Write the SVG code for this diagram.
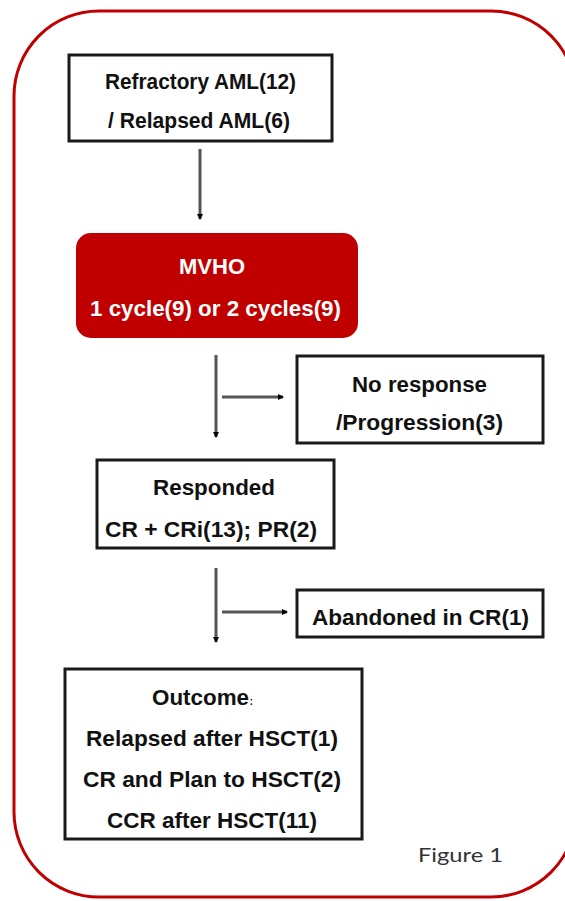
<svg xmlns="http://www.w3.org/2000/svg" width="565" height="901" viewBox="0 0 565 901">
<style>
.box{fill:#fff;stroke:#1a1a1a;stroke-width:3}
.t{font-family:"Liberation Sans",Arial,"Noto Sans CJK SC",sans-serif;font-weight:bold;font-size:22px;fill:#111;text-anchor:middle}
.w{fill:#fff}
.ln{stroke:#555;stroke-width:3;fill:none;marker-end:url(#ah)}
</style>
<defs>
<marker id="ah" viewBox="0 0 6 6" refX="5" refY="3" markerWidth="2" markerHeight="2" orient="auto" markerUnits="strokeWidth">
<path d="M0,0 L6,3 L0,6 Z" fill="#000"/>
</marker>
</defs>
<rect id="frame" x="14" y="11" width="562" height="886" rx="85" ry="85" fill="none" stroke="#c00000" stroke-width="3"/>
<g id="n1">
<rect class="box" x="69" y="55" width="263" height="86"/>
<text class="t" x="200.5" y="89" textLength="191" lengthAdjust="spacingAndGlyphs">Refractory AML(12)</text>
<text class="t" x="199" y="128" textLength="182" lengthAdjust="spacingAndGlyphs">/ Relapsed AML(6)</text>
</g>
<g id="n2">
<rect x="76" y="233" width="282" height="105" rx="15" ry="15" fill="#c00000"/>
<text class="t w" x="212" y="274" textLength="66" lengthAdjust="spacingAndGlyphs">MVHO</text>
<text class="t w" x="215.5" y="316" textLength="251" lengthAdjust="spacingAndGlyphs">1 cycle(9) or 2 cycles(9)</text>
</g>
<g id="n3">
<rect class="box" x="297" y="356" width="246" height="87"/>
<text class="t" x="419.5" y="392" textLength="135" lengthAdjust="spacingAndGlyphs">No response</text>
<text class="t" x="419.5" y="430" textLength="167" lengthAdjust="spacingAndGlyphs">/Progression(3)</text>
</g>
<g id="n4">
<rect class="box" x="97" y="460" width="237" height="88"/>
<text class="t" x="214" y="495" textLength="122" lengthAdjust="spacingAndGlyphs">Responded</text>
<text class="t" x="211" y="537" textLength="212" lengthAdjust="spacingAndGlyphs">CR + CRi(13); PR(2)</text>
</g>
<g id="n5">
<rect class="box" x="297" y="590" width="246" height="47"/>
<text class="t" x="420.5" y="625" textLength="217" lengthAdjust="spacingAndGlyphs">Abandoned in CR(1)</text>
</g>
<g id="n6">
<rect class="box" x="65" y="669" width="297" height="170"/>
<text class="t" x="205" y="705"><tspan textLength="97" lengthAdjust="spacingAndGlyphs">Outcome</tspan><tspan font-size="9">：</tspan></text>
<text class="t" x="212" y="746" textLength="252" lengthAdjust="spacingAndGlyphs">Relapsed after HSCT(1)</text>
<text class="t" x="212" y="787" textLength="258" lengthAdjust="spacingAndGlyphs">CR and Plan to HSCT(2)</text>
<text class="t" x="212" y="828" textLength="210" lengthAdjust="spacingAndGlyphs">CCR after HSCT(11)</text>
</g>
<text id="caption" x="418" y="862" font-family="Lato,'Open Sans',sans-serif" font-size="20" fill="#333" textLength="85" lengthAdjust="spacingAndGlyphs">Figure 1</text>
<g id="connectors">
<line class="ln" x1="200" y1="149" x2="200" y2="219"/>
<line class="ln" x1="216" y1="355" x2="216" y2="437"/>
<line class="ln" x1="222" y1="397" x2="283" y2="397"/>
<line class="ln" x1="216" y1="568" x2="216" y2="642"/>
<line class="ln" x1="222" y1="612" x2="287" y2="612"/>
</g>
</svg>
